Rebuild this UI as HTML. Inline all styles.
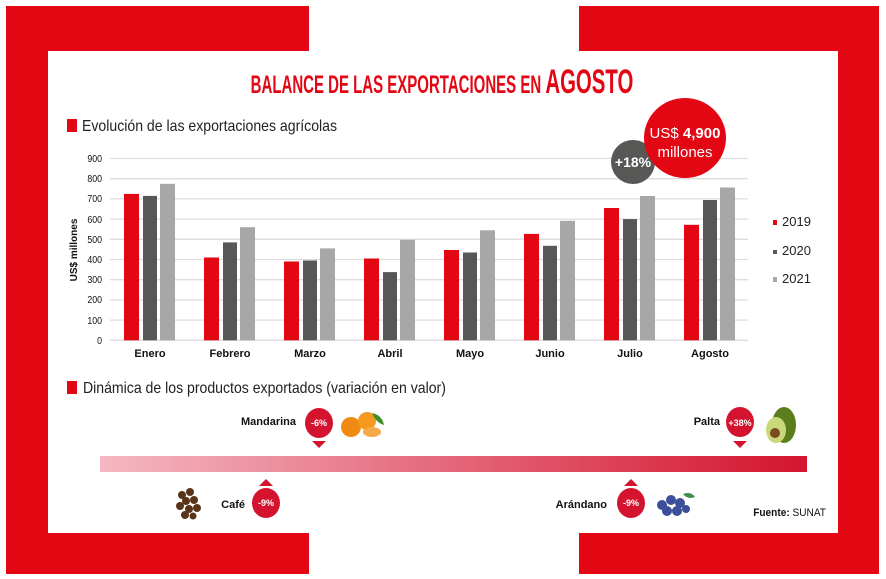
<!DOCTYPE html>
<html><head><meta charset="utf-8"><style>
html,body{margin:0;padding:0;background:#fff;}
svg{display:block;font-family:"Liberation Sans",sans-serif;}
</style></head><body>
<svg width="886" height="579" viewBox="0 0 886 579" xmlns="http://www.w3.org/2000/svg">
<defs>
<linearGradient id="g" x1="0" x2="1" y1="0" y2="0">
<stop offset="0" stop-color="#f4b8c2"/><stop offset="1" stop-color="#d4142f"/>
</linearGradient>
</defs>
<rect x="0" y="0" width="886" height="579" fill="#fff"/>
<rect x="6" y="6" width="303" height="568" fill="#e30613"/>
<rect x="579" y="6" width="300" height="568" fill="#e30613"/>
<rect x="48" y="51" width="790" height="482" fill="#fff"/>

<text x="442" y="93" text-anchor="middle" fill="#e30613" font-weight="bold" font-size="27" transform="translate(442 0) scale(0.6 1) translate(-442 0)"><tspan font-size="25">BALANCE DE LAS EXPORTACIONES EN </tspan><tspan font-size="34">AGOSTO</tspan></text>

<rect x="67" y="119" width="10" height="13" fill="#e30613"/>
<text x="82" y="131" font-size="16" fill="#222" transform="translate(82 0) scale(0.88 1) translate(-82 0)">Evolución de las exportaciones agrícolas</text>

<g stroke="#ddd" stroke-width="1.3">
<line x1="110" x2="748" y1="158.5" y2="158.5"/><line x1="110" x2="748" y1="178.7" y2="178.7"/>
<line x1="110" x2="748" y1="198.9" y2="198.9"/><line x1="110" x2="748" y1="219.1" y2="219.1"/>
<line x1="110" x2="748" y1="239.3" y2="239.3"/><line x1="110" x2="748" y1="259.5" y2="259.5"/>
<line x1="110" x2="748" y1="279.7" y2="279.7"/><line x1="110" x2="748" y1="299.9" y2="299.9"/>
<line x1="110" x2="748" y1="320.1" y2="320.1"/><line x1="110" x2="748" y1="340.3" y2="340.3"/>
</g>
<g font-size="10" fill="#111" text-anchor="end" transform="translate(102 0) scale(0.88 1) translate(-102 0)">
<text x="102" y="162">900</text><text x="102" y="182">800</text><text x="102" y="202">700</text>
<text x="102" y="223">600</text><text x="102" y="243">500</text><text x="102" y="263">400</text>
<text x="102" y="283">300</text><text x="102" y="303">200</text><text x="102" y="324">100</text>
<text x="102" y="344">0</text>
</g>
<text x="77" y="250" font-size="10" font-weight="bold" fill="#111" text-anchor="middle" transform="rotate(-90 77 250)">US$ millones</text>

<g>
<rect x="124" y="193.9" width="15" height="146.4" fill="#e30613"/><rect x="143" y="195.9" width="14" height="144.4" fill="#575756"/><rect x="160" y="183.8" width="15" height="156.5" fill="#a7a7a7"/>
<rect x="204" y="257.5" width="15" height="82.8" fill="#e30613"/><rect x="223" y="242.4" width="14" height="97.9" fill="#575756"/><rect x="240" y="227.2" width="15" height="113.1" fill="#a7a7a7"/>
<rect x="284" y="261.5" width="15" height="78.8" fill="#e30613"/><rect x="303" y="260.5" width="14" height="79.8" fill="#575756"/><rect x="320" y="248.4" width="15" height="91.9" fill="#a7a7a7"/>
<rect x="364" y="258.5" width="15" height="81.8" fill="#e30613"/><rect x="383" y="272.1" width="14" height="68.2" fill="#575756"/><rect x="400" y="239.8" width="15" height="100.5" fill="#a7a7a7"/>
<rect x="444" y="250.0" width="15" height="90.3" fill="#e30613"/><rect x="463" y="252.5" width="14" height="87.8" fill="#575756"/><rect x="480" y="230.3" width="15" height="110.0" fill="#a7a7a7"/>
<rect x="524" y="233.9" width="15" height="106.4" fill="#e30613"/><rect x="543" y="245.8" width="14" height="94.5" fill="#575756"/><rect x="560" y="220.8" width="15" height="119.5" fill="#a7a7a7"/>
<rect x="604" y="208.0" width="15" height="132.3" fill="#e30613"/><rect x="623" y="219.1" width="14" height="121.2" fill="#575756"/><rect x="640" y="196.0" width="15" height="144.3" fill="#a7a7a7"/>
<rect x="684" y="224.8" width="15" height="115.5" fill="#e30613"/><rect x="703" y="200.0" width="14" height="140.3" fill="#575756"/><rect x="720" y="187.5" width="15" height="152.8" fill="#a7a7a7"/>
</g>
<g font-size="11" font-weight="bold" fill="#111" text-anchor="middle">
<text x="150" y="357">Enero</text><text x="230" y="357">Febrero</text><text x="310" y="357">Marzo</text>
<text x="390" y="357">Abril</text><text x="470" y="357">Mayo</text><text x="550" y="357">Junio</text>
<text x="630" y="357">Julio</text><text x="710" y="357">Agosto</text>
</g>
<rect x="773" y="220" width="4" height="5" fill="#e30613"/><text x="782" y="226" font-size="13" fill="#222">2019</text>
<rect x="773" y="250" width="4" height="4" fill="#575756"/><text x="782" y="255" font-size="13" fill="#222">2020</text>
<rect x="773" y="277" width="4" height="5" fill="#a7a7a7"/><text x="782" y="283" font-size="13" fill="#222">2021</text>

<ellipse cx="633" cy="162" rx="22" ry="22" fill="#575756"/>
<text x="633" y="167" font-size="14" font-weight="bold" fill="#fff" text-anchor="middle">+18%</text>
<ellipse cx="685" cy="138" rx="41" ry="40" fill="#e30613"/>
<text x="685" y="138" font-size="15" fill="#fff" text-anchor="middle">US$ <tspan font-weight="bold">4,900</tspan></text>
<text x="685" y="157" font-size="15" fill="#fff" text-anchor="middle">millones</text>

<rect x="67" y="381" width="10" height="13" fill="#e30613"/>
<text x="83" y="393" font-size="16" fill="#222" transform="translate(83 0) scale(0.88 1) translate(-83 0)">Dinámica de los productos exportados (variación en valor)</text>

<rect x="100" y="456" width="707" height="16" fill="url(#g)"/>

<g font-size="11" font-weight="bold" fill="#111" text-anchor="end">
<text x="296" y="425">Mandarina</text><text x="720" y="425">Palta</text>
<text x="245" y="508">Café</text><text x="607" y="508">Arándano</text>
</g>
<g fill="#d4142f">
<ellipse cx="319" cy="423" rx="14" ry="15"/><polygon points="312,441 326,441 319,448"/>
<ellipse cx="740" cy="422" rx="14" ry="15"/><polygon points="733,441 747,441 740,448"/>
<ellipse cx="266" cy="503" rx="14" ry="15"/><polygon points="259,486 273,486 266,479"/>
<ellipse cx="631" cy="503" rx="14" ry="15"/><polygon points="624,486 638,486 631,479"/>
</g>
<g font-size="9" font-weight="bold" fill="#fff" text-anchor="middle">
<text x="319" y="426">-6%</text><text x="740" y="426">+38%</text>
<text x="266" y="506">-9%</text><text x="631" y="506">-9%</text>
</g>
<circle cx="351" cy="427" r="10" fill="#f18a12"/><circle cx="367" cy="421" r="9" fill="#f39a1e"/><ellipse cx="372" cy="432" rx="9" ry="5" fill="#f6a84a"/><path d="M372 413 q10 2 12 12 q-8 -2 -12 -12z" fill="#3f8f2a"/>
<ellipse cx="784" cy="425" rx="12" ry="18" fill="#5c7d1e"/><ellipse cx="776" cy="430" rx="10" ry="13" fill="#c9d97a"/><circle cx="775" cy="433" r="5" fill="#7a4a1e"/>
<g fill="#5a3418"><circle cx="182" cy="495" r="4"/><circle cx="190" cy="492" r="4"/><circle cx="186" cy="501" r="4"/><circle cx="194" cy="500" r="4"/><circle cx="180" cy="506" r="4"/><circle cx="189" cy="509" r="4"/><circle cx="197" cy="508" r="4"/><circle cx="185" cy="515" r="4"/><circle cx="193" cy="516" r="3.5"/></g>
<g fill="#3c4f9a"><circle cx="662" cy="505" r="5"/><circle cx="671" cy="500" r="5"/><circle cx="680" cy="503" r="5"/><circle cx="667" cy="511" r="5"/><circle cx="677" cy="511" r="5"/><circle cx="686" cy="509" r="4"/></g>
<path d="M683 494 q8 -3 12 3 q-7 3 -12 -3z" fill="#3f8f4a"/>

<text x="826" y="516" font-size="11" fill="#111" text-anchor="end" transform="translate(826 0) scale(0.92 1) translate(-826 0)"><tspan font-weight="bold">Fuente:</tspan> SUNAT</text>
</svg>
</body></html>
